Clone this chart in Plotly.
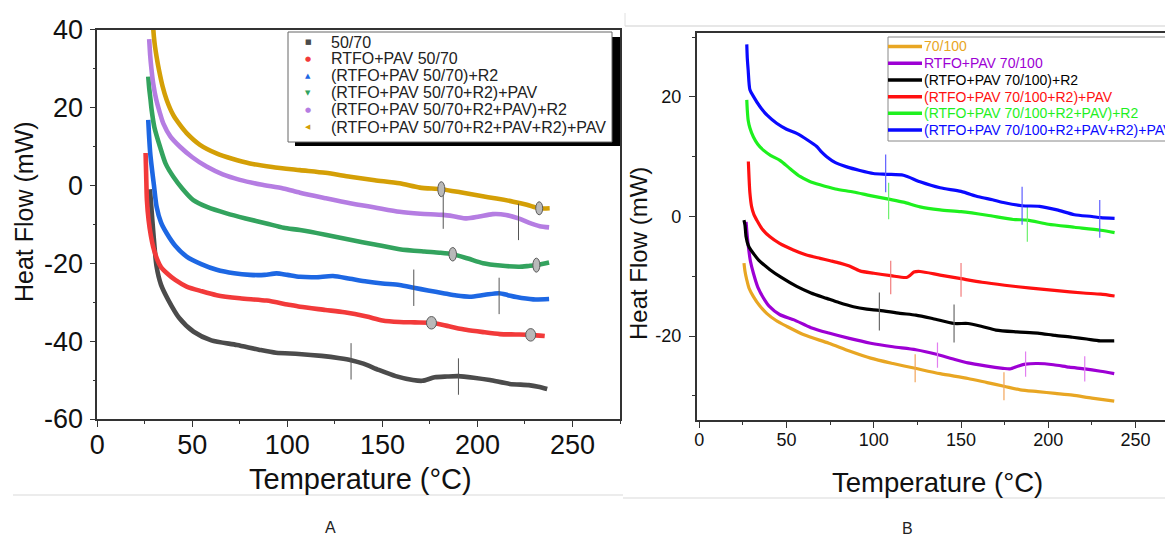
import plotly.graph_objects as go

W, H = 1165, 536

# ---------------- Panel A data (Temperature °C, Heat Flow mW) ----------------
a_names = ["50/70", "RTFO+PAV 50/70", "(RTFO+PAV 50/70)+R2", "(RTFO+PAV 50/70+R2)+PAV",
           "(RTFO+PAV 50/70+R2+PAV)+R2", "(RTFO+PAV 50/70+R2+PAV+R2)+PAV"]
a_colors = ["#4b4b4b", "#f23a3a", "#1d67e3", "#33a35e", "#b57de2", "#d49f06"]
a_symbols = ["■", "●", "▲", "▼", "●", "◀"]

a1_x = [27.7, 28.5, 29.5, 31.2, 33.5, 37.3, 43, 50.7, 60, 73.5, 85, 94, 106, 118, 127.6, 133.5, 140, 148, 157, 166, 171, 177.5, 184, 190, 198, 206.5, 217, 227, 232, 236.7]
a1_y = [-1, -6, -12.3, -20.9, -25.5, -29.4, -34, -37.6, -39.8, -41, -42.2, -43, -43.3, -43.8, -44.4, -44.9, -45.8, -47.4, -49, -50, -50.2, -49.3, -49.1, -49, -49.4, -50, -51, -51.3, -51.7, -52.3]

a2_x = [25.4, 25.7, 26.1, 27, 28.2, 29.4, 31.5, 33.5, 36.5, 41, 47, 55, 62.8, 75, 89, 100, 106.7, 120, 130, 141.7, 150, 159, 167, 175.8, 185, 194, 203, 211.8, 220, 228, 235.4]
a2_y = [8.3, 3, -3.8, -9, -13, -15.8, -19, -21, -22.5, -24.3, -26, -27.2, -28.2, -29, -29.6, -30.6, -31.2, -32, -32.6, -33.7, -34.7, -35.1, -35.2, -35.3, -36.2, -37.1, -37.7, -38.2, -38.3, -38.4, -38.7]

a3_x = [26.8, 27.2, 27.8, 28.6, 29.8, 31.2, 33.5, 36.5, 41, 47, 55, 62.8, 72, 80.3, 88, 94.3, 100, 106.6, 115, 124, 133, 141.7, 150, 159, 166.5, 174, 182, 189, 196, 204, 211.4, 216, 220.5, 229.3, 237.7]
a3_y = [16.8, 13, 8.5, 4.8, 0, -5.5, -9.5, -12.3, -15.5, -18.3, -20.3, -21.7, -22.6, -23, -23, -22.6, -23, -23.5, -23.6, -23.3, -24, -24.7, -25.2, -25.6, -26.3, -27, -27.7, -28.3, -28.6, -28.1, -27.7, -28.2, -28.7, -29.3, -29.2]

a4_x = [26.8, 27.3, 28, 28.6, 30, 33, 36, 40, 45, 50.5, 58, 68, 78, 89, 98, 106.6, 120, 133, 146, 159, 172, 180, 187, 195, 203, 212, 222, 227, 231, 237.7]
a4_y = [27.9, 25, 22, 19.3, 15, 9.9, 5.5, 2.2, -1, -3.8, -5.6, -7.2, -8.5, -9.8, -10.9, -11.5, -12.7, -14, -15.2, -16.4, -17, -17.3, -17.7, -18.8, -20, -20.6, -20.9, -20.7, -20.5, -19.8]

a5_x = [27.3, 27.8, 28.5, 29.4, 31, 32.8, 34.7, 38.5, 43.5, 50, 57.5, 66, 75, 86, 97.8, 106.6, 120, 133, 146, 159, 170, 182, 188, 194.3, 201, 208, 215, 221.6, 227, 232.8, 237.7]
a5_y = [37.5, 33.5, 29.8, 26.2, 22, 18.8, 15.9, 12.5, 9.9, 7.2, 4.8, 2.8, 1.4, 0.2, -0.8, -1.9, -3.3, -4.6, -5.7, -6.8, -7.3, -7.6, -8, -8.5, -8, -7.4, -7.6, -8.5, -9.6, -10.5, -10.8]

a6_x = [29.4, 29.8, 30.4, 31.2, 32.5, 34.3, 36.5, 40, 43.5, 47, 54, 62.7, 71, 80.3, 92, 106.6, 120, 133, 146, 159, 169.7, 181, 191, 201.3, 210, 218.8, 226, 232.5, 238]
a6_y = [40.5, 38, 35.5, 33, 29.5, 25.5, 21.9, 18, 15.5, 13.4, 10.4, 8.2, 6.8, 5.6, 4.7, 3.9, 3.2, 2.2, 1.3, 0.5, -0.6, -1, -1.8, -2.7, -3.4, -4.2, -5, -5.9, -5.9]

a_xs = [a1_x, a2_x, a3_x, a4_x, a5_x, a6_x]
a_ys = [a1_y, a2_y, a3_y, a4_y, a5_y, a6_y]

# transition marks (vertical ticks) and onset ellipses in panel A
a_tick_x = [133.5, 190, 166.5, 211.4, 182, 221.6]
a_tick_y = [-45.2, -49.1, -26.3, -28.4, -6.5, -9.4]
a_oval_x = [181, 232.5, 187, 231, 175.8, 228]
a_oval_y = [-1, -5.9, -17.7, -20.5, -35.3, -38.4]
a_oval_w = [7, 7, 7.5, 7, 10, 10]
a_oval_h = [15, 13, 13.5, 14, 12.5, 12.5]

# ---------------- Panel B data ----------------
b_names = ["70/100", "RTFO+PAV 70/100", "(RTFO+PAV 70/100)+R2", "(RTFO+PAV 70/100+R2)+PAV",
           "(RTFO+PAV 70/100+R2+PAV)+R2", "(RTFO+PAV 70/100+R2+PAV+R2)+PAV"]
b_colors = ["#e8a623", "#9d00d4", "#000000", "#ff1010", "#1ef01e", "#0a0aff"]
b_tick_colors = ["#f2a55a", "#e27ef0", "#6a6a6a", "#f27c7c", "#6cf06c", "#5f5fff"]

b1_x = [25.6, 26.2, 27.2, 28.5, 31, 34.5, 38.6, 44, 50.3, 60, 74.2, 86, 98.2, 111, 123.7, 138, 154, 165, 174.6, 184, 194, 204, 213.9, 225, 237.8]
b1_y = [-7.8, -9.2, -10.6, -12, -13.4, -14.9, -16.2, -17.4, -18.4, -19.8, -21.2, -22.5, -23.7, -24.6, -25.4, -26.3, -27.1, -27.8, -28.4, -29, -29.3, -29.6, -29.9, -30.4, -30.9]

b2_x = [26.8, 27.4, 28.1, 29.3, 31, 33.5, 37.5, 40, 46, 54.3, 64, 74.2, 86, 98.2, 111, 124.1, 136.5, 145, 154, 164, 174, 178, 183, 187, 194, 203, 212, 220.9, 230, 237.8]
b2_y = [-0.9, -3, -5, -7.5, -9.5, -11.8, -14, -15, -16.4, -17.3, -18.6, -19.5, -20.4, -21.2, -21.8, -22.3, -23.1, -23.8, -24.5, -25, -25.4, -25.5, -25.0, -24.7, -24.6, -24.8, -25.2, -25.5, -25.9, -26.3]

b3_x = [25.6, 26.2, 26.8, 28, 29.5, 31, 34, 40.5, 47, 55.8, 64, 73, 80, 88.3, 96, 103.2, 115, 124.1, 134, 146, 154, 162, 170, 182, 194, 204, 213.9, 222, 229.8, 237.8]
b3_y = [-0.6, -1.5, -3.4, -4.8, -5.6, -6.2, -7.3, -8.9, -10.2, -11.7, -12.8, -13.7, -14.4, -15.1, -15.5, -15.7, -16.2, -16.5, -17.1, -17.9, -17.9, -18.4, -19, -19.3, -19.5, -19.9, -20.2, -20.5, -20.8, -20.8]

b4_x = [28.1, 28.5, 29, 30, 31.3, 32.9, 36, 40.5, 46, 53.9, 61, 69.2, 75, 80.6, 86, 92, 100, 109.7, 118.8, 121, 123, 126.5, 138, 150, 162, 175, 190, 205, 220, 230, 238]
b4_y = [9.2, 6.5, 3.9, 1.6, 0.3, -0.6, -2.1, -3.4, -4.5, -5.6, -6.4, -7, -7.4, -7.8, -8.3, -9.1, -9.5, -9.9, -10.2, -9.8, -9.3, -9.2, -9.8, -10.4, -11, -11.5, -12, -12.4, -12.8, -13, -13.3]

b5_x = [27.2, 27.5, 28, 29, 31, 33.5, 36.7, 41, 46.2, 52, 57.7, 63, 69.2, 78, 88.3, 98, 108.5, 117, 126.5, 138, 150, 165, 180, 188, 200, 215, 230, 238]
b5_y = [19.5, 17.8, 16.1, 14.8, 13.3, 12.1, 11.1, 10.2, 9.4, 8, 6.7, 5.9, 5.3, 4.6, 4.1, 3.5, 2.9, 2.4, 1.6, 1.1, 0.8, 0.2, -0.5, -0.6, -1.3, -1.8, -2.3, -2.7]

b6_x = [27.2, 27.5, 28, 29, 31, 34.7, 39, 44.3, 50, 55.8, 62, 67.3, 70, 73, 78, 84.5, 92, 99.7, 107.4, 117, 126.5, 138, 150, 160, 168, 175, 185, 195, 205, 215, 225, 230, 238]
b6_y = [28.8, 26.5, 24.5, 21.2, 20.1, 18.4, 16.9, 15.6, 14.6, 13.9, 12.8, 11.7, 10.8, 10, 9, 8.3, 7.7, 7.2, 7.06, 6.9, 5.8, 4.8, 4.2, 3.3, 2.8, 2.3, 1.8, 1.7, 1.1, 0.3, 0, -0.2, -0.3]

b_xs = [b1_x, b2_x, b3_x, b4_x, b5_x, b6_x]
b_ys = [b1_y, b2_y, b3_y, b4_y, b5_y, b6_y]

b_tick_x = [[123.7, 174.6], [136.5, 187, 220.9], [103.2, 146], [109.7, 150], [108.5, 188], [106.8, 185, 229.5]]
b_tick_y = [[-25.4, -28.4], [-23.2, -24.7, -25.5], [-15.9, -17.9], [-10.2, -10.6], [2.6, -1.2], [7.2, 1.8, -0.4]]
b_tick_len = [20, 18, 27, 24, 26, 27]

# ---------------- tick labels ----------------
a_xticks = [0, 50, 100, 150, 200, 250]
a_yticks = [-60, -40, -20, 0, 20, 40]
b_xticks = [0, 50, 100, 150, 200, 250]
b_yticks = [-20, 0, 20]

FONT = "Liberation Sans, Arial, sans-serif"
AX = "#333333"


def px(x):
    return x / W


def py(y):
    return 1 - y / H


fig = go.Figure()

for xs, ys, c, n in zip(a_xs, a_ys, a_colors, a_names):
    fig.add_trace(go.Scatter(x=xs, y=ys, mode="lines", name=n,
                             line=dict(color=c, width=4.6, shape="spline", smoothing=0.7),
                             xaxis="x", yaxis="y", showlegend=False))

fig.add_trace(go.Scatter(x=a_tick_x, y=a_tick_y, mode="markers", showlegend=False,
                         marker=dict(symbol="line-ns-open", size=26, color="#555555",
                                     line=dict(width=1, color="#555555")),
                         xaxis="x", yaxis="y"))

for xs, ys, c, n, tx, ty, tl, tc in zip(b_xs, b_ys, b_colors, b_names, b_tick_x, b_tick_y, b_tick_len, b_tick_colors):
    fig.add_trace(go.Scatter(x=xs, y=ys, mode="lines", name=n,
                             line=dict(color=c, width=3.2, shape="spline", smoothing=0.7),
                             xaxis="x2", yaxis="y2", showlegend=False))
    fig.add_trace(go.Scatter(x=tx, y=ty, mode="markers", showlegend=False,
                             marker=dict(symbol="line-ns-open", size=tl, color=tc,
                                         line=dict(width=1.2, color=tc)),
                             xaxis="x2", yaxis="y2"))

shapes = []
for ox, oy, ow, oh in zip(a_oval_x, a_oval_y, a_oval_w, a_oval_h):
    shapes.append(dict(type="circle", xref="x", yref="y", xsizemode="pixel", ysizemode="pixel",
                       xanchor=ox, yanchor=oy, x0=-ow / 2, x1=ow / 2, y0=-oh / 2, y1=oh / 2,
                       fillcolor="#b9b9b9", line=dict(color="#5a5a5a", width=1)))

# legend A (shadowed box)
shapes.append(dict(type="rect", xref="paper", yref="paper", x0=px(295), x1=px(620), y0=py(146), y1=py(37),
                   fillcolor="#000000", line=dict(width=0)))
shapes.append(dict(type="rect", xref="paper", yref="paper", x0=px(288), x1=px(612), y0=py(142), y1=py(32),
                   fillcolor="#ffffff", line=dict(color="#666666", width=1)))
# legend B box (runs off the right edge)
shapes.append(dict(type="rect", xref="paper", yref="paper", x0=px(888), x1=px(1180), y0=py(141), y1=py(37),
                   fillcolor="#ffffff", line=dict(color="#888888", width=1)))
# light separators
shapes.append(dict(type="line", xref="paper", yref="paper", x0=px(13), x1=px(623), y0=py(495), y1=py(495),
                   line=dict(color="#d9d9d9", width=1)))
shapes.append(dict(type="line", xref="paper", yref="paper", x0=px(623), x1=px(1165), y0=py(498), y1=py(498),
                   line=dict(color="#d9d9d9", width=1)))
shapes.append(dict(type="line", xref="paper", yref="paper", x0=px(625), x1=px(1165), y0=py(26), y1=py(26),
                   line=dict(color="#cfcfcf", width=1)))
shapes.append(dict(type="line", xref="paper", yref="paper", x0=px(625), x1=px(625), y0=py(13), y1=py(26),
                   line=dict(color="#e0e0e0", width=1)))

annotations = []
a_rows = [42, 59, 76, 93, 110, 127]
for r, n, c, s in zip(a_rows, a_names, a_colors, a_symbols):
    annotations.append(dict(x=px(308), y=py(r), xref="paper", yref="paper", text=s, showarrow=False,
                            xanchor="center", yanchor="middle",
                            font=dict(family="DejaVu Sans", size=7, color=c)))
    annotations.append(dict(x=px(329), y=py(r), xref="paper", yref="paper", text=n, showarrow=False,
                            xanchor="left", yanchor="middle",
                            font=dict(family=FONT, size=16, color="#222222")))

b_rows = [46.5, 63.3, 80, 96.7, 113.3, 130]
for r, n, c in zip(b_rows, b_names, b_colors):
    shapes.append(dict(type="line", xref="paper", yref="paper", x0=px(888), x1=px(922), y0=py(r), y1=py(r),
                       line=dict(color=c, width=3.5)))
    annotations.append(dict(x=px(922), y=py(r), xref="paper", yref="paper", text=n, showarrow=False,
                            xanchor="left", yanchor="middle",
                            font=dict(family=FONT, size=14, color=c)))


def title(x, y, text, size, angle=0, color="#111111"):
    return dict(x=px(x), y=py(y), xref="paper", yref="paper", text=text, textangle=angle,
                xanchor="center", yanchor="middle", showarrow=False,
                font=dict(family=FONT, size=size, color=color))


annotations += [
    title(24, 212, "Heat Flow (mW)", 25, -90),
    title(360, 479, "Temperature (°C)", 29),
    title(638, 254, "Heat Flow (mW)", 24, -90),
    title(937, 482, "Temperature (°C)", 27.5),
    title(330, 527, "A", 16, 0, "#222222"),
    title(907, 528, "B", 16, 0, "#222222"),
]

common_axis = dict(showgrid=False, zeroline=False, showline=True, linecolor=AX, linewidth=1.5,
                   ticks="outside", tickcolor=AX, tickwidth=1.3, ticklen=6)

fig.update_layout(
    width=W, height=H,
    margin=dict(l=0, r=0, t=0, b=0, autoexpand=False),
    paper_bgcolor="white", plot_bgcolor="white",
    showlegend=False,
    shapes=shapes, annotations=annotations,
    xaxis=dict(domain=[px(97.3), px(620)], range=[0, 275], anchor="y", mirror=True,
               tickvals=a_xticks, ticktext=[str(v) for v in a_xticks], ticklabelstandoff=-5,
               tickfont=dict(family=FONT, size=27, color="#111111"),
               minor=dict(ticks="outside", dtick=25, tick0=0, ticklen=3, tickcolor=AX, tickwidth=1.2),
               **common_axis),
    yaxis=dict(domain=[py(419), py(29.5)], range=[-60, 40], anchor="x", mirror=True,
               tickvals=a_yticks, ticktext=[str(v) for v in a_yticks], ticklabelstandoff=1,
               tickfont=dict(family=FONT, size=27, color="#111111"),
               minor=dict(ticks="outside", dtick=10, tick0=0, ticklen=3, tickcolor=AX, tickwidth=1.2),
               **common_axis),
    xaxis2=dict(domain=[px(696.7), 1.0], range=[-1.5, 266.9], anchor="y2", mirror=True,
                tickvals=b_xticks, ticktext=[str(v) for v in b_xticks], ticklabelstandoff=-4,
                tickfont=dict(family=FONT, size=18, color="#111111"),
                minor=dict(ticks="outside", dtick=25, tick0=0, ticklen=3, tickcolor=AX, tickwidth=1.2),
                **common_axis),
    yaxis2=dict(domain=[py(420.3), py(33)], range=[-34.1, 30.7], anchor="x2", mirror=False,
                tickvals=b_yticks, ticktext=[str(v) for v in b_yticks], ticklabelstandoff=4,
                tickfont=dict(family=FONT, size=18, color="#111111"),
                minor=dict(ticks="outside", dtick=10, tick0=0, ticklen=3, tickcolor=AX, tickwidth=1.2),
                **common_axis),
)

fig.write_html("out.html")
